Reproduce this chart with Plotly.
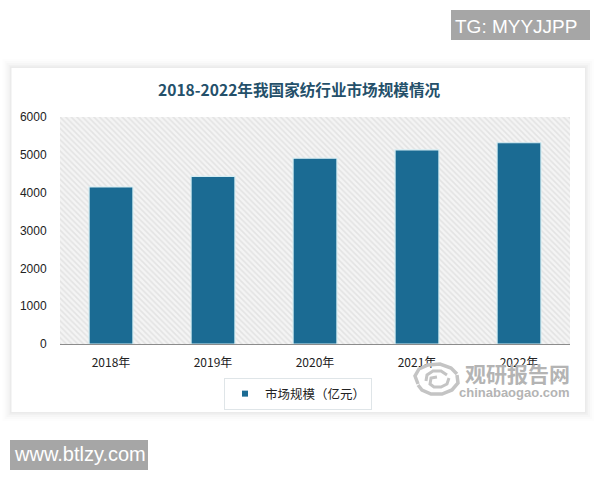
import plotly.graph_objects as go

W, H = 600, 480
categories = ["2018年", "2019年", "2020年", "2021年", "2022年"]
values = [4150, 4430, 4910, 5130, 5320]
background = [6000, 6000, 6000, 6000, 6000]
tick_values = [0, 1000, 2000, 3000, 4000, 5000, 6000]
title_text = "2018-2022年我国家纺行业市场规模情况"
series_name = "市场规模（亿元）"
CJK = "Noto Sans CJK SC"
SANS = "Liberation Sans"
L, R, T, B = 60, 570, 117, 344


def px(x):
    return (x - L) / (R - L)


def py(y):
    return (B - y) / (B - T)


def rect(x0, y0, x1, y1, fill, line=None, layer="below"):
    return dict(type="rect", xref="paper", yref="paper", x0=px(x0), x1=px(x1),
                y0=py(y1), y1=py(y0), fillcolor=fill, layer=layer,
                line=dict(color=line or "rgba(0,0,0,0)", width=1 if line else 0))


def path_arc(d, width, color="#c4c4c4"):
    return dict(type="path", xref="paper", yref="paper", path=d, layer="above",
                line=dict(color=color, width=width), fillcolor="rgba(0,0,0,0)")


def swirl(points):
    return "M " + " L ".join(f"{px(x):.4f},{py(y):.4f}" for x, y in points)


fig = go.Figure()
fig.add_bar(x=categories, y=background, width=1, showlegend=False, hoverinfo="skip",
            marker=dict(color="#ffffff", line=dict(width=0),
                        pattern=dict(shape="\\", size=4, solidity=0.4,
                                     fgcolor="#d2d2d2", bgcolor="#f4f4f4")))
fig.add_bar(x=categories, y=values, width=0.43, showlegend=False,
            marker=dict(color="#1b6b93", line=dict(color="#d3ecf2", width=1.2)))
fig.add_scatter(x=categories[:1], y=[None], mode="markers", name=series_name,
                marker=dict(symbol="square", size=6, color="#1b6b93"))

shapes = []
for grow, alpha in [(9, 0.008), (7, 0.012), (5, 0.016), (3, 0.02), (1.5, 0.025)]:
    shapes.append(rect(11.5 - grow, 68 - grow, 585 + grow, 412 + grow, f"rgba(0,0,0,{alpha})"))
shapes.append(rect(11.5, 68, 585, 412, "#ffffff"))
shapes.append(rect(451, 10, 590, 40, "#a6a6a6"))
shapes.append(rect(10, 440, 148, 470, "#a6a6a6"))
shapes.append(path_arc(swirl([(418, 384), (415, 376), (419, 369), (428, 365), (440, 364), (451, 368), (457, 374)]), 3.5))
shapes.append(path_arc(swirl([(457, 375), (458, 383), (452, 390), (442, 394), (431, 394), (422, 390), (418, 385)]), 3.5))
shapes.append(path_arc(swirl([(426, 381), (427, 375), (433, 371), (441, 371), (447, 375)]), 3))
shapes.append(path_arc(swirl([(449, 378), (447, 384), (441, 387), (434, 387), (430, 384), (431, 378), (437, 377)]), 3))

annotations = [
    dict(text=title_text, x=px(299), y=py(89), font=dict(family=CJK, size=15.6, color="#24506a", weight="bold")),
    dict(text="TG: MYYJJPP", x=px(516), y=py(26), font=dict(family=SANS, size=19, color="#ffffff")),
    dict(text="www.btlzy.com", x=px(79.5), y=py(454), font=dict(family=SANS, size=20, color="#ffffff")),
    dict(text="观研报告网", x=px(517), y=py(373), font=dict(family=CJK, size=21, color="#b4b4b4", weight="bold")),
    dict(text="chinabaogao.com", x=px(514), y=py(392), font=dict(family=SANS, size=13, color="#b4b4b4", weight="bold")),
]
for a in annotations:
    a.update(xref="paper", yref="paper", showarrow=False, xanchor="center", yanchor="middle")

fig.update_layout(
    width=W, height=H, barmode="overlay", autosize=False,
    margin=dict(l=L, r=W - R, t=T, b=H - B, autoexpand=False),
    paper_bgcolor="#ffffff", plot_bgcolor="rgba(0,0,0,0)",
    shapes=shapes, annotations=annotations,
    font=dict(family=CJK, color="#222222"),
    legend=dict(orientation="h", x=px(298), xanchor="center", y=py(378), yanchor="top",
                bordercolor="#dfe5e8", borderwidth=1, bgcolor="#ffffff",
                font=dict(family=CJK, size=12.5, color="#222222"), itemwidth=30),
    xaxis=dict(showgrid=False, ticks="outside", ticklen=8, tickcolor="rgba(0,0,0,0)",
               showline=True, linecolor="#8c8c8c", linewidth=1,
               tickfont=dict(family=CJK, size=12, color="#222222"), zeroline=False),
    yaxis=dict(range=[0, 6000], tickvals=tick_values, showgrid=False, zeroline=False,
               ticks="outside", ticklen=10, tickcolor="rgba(0,0,0,0)",
               showline=False, tickfont=dict(family=SANS, size=12, color="#222222")),
)
fig.write_html("out.html", config=dict(displayModeBar=False),
               post_script="document.body.style.margin='0';")
